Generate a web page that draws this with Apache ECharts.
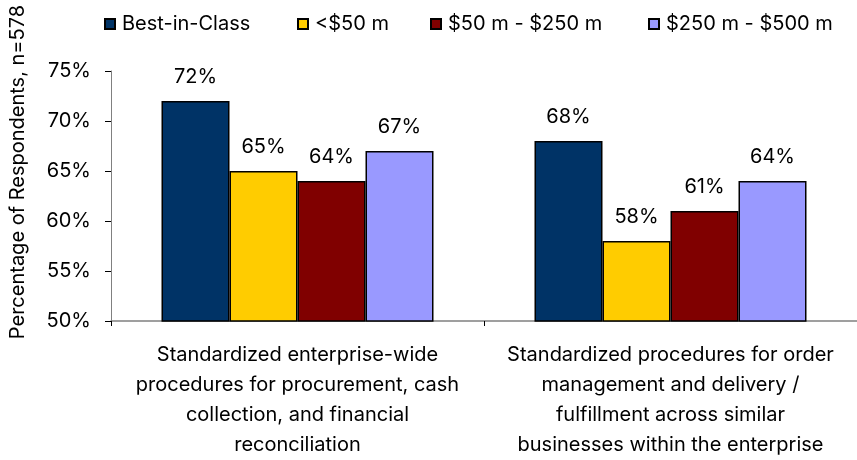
<!DOCTYPE html>
<html>
<head>
<meta charset="utf-8">
<title>Standardized procedures</title>
<script src="https://cdn.jsdelivr.net/npm/echarts@6/dist/echarts.min.js"></script>
<style>
	html, body { margin: 0; padding: 0; background: #fff; }
	#chart { width: 857px; height: 460px; }
</style>
</head>
<body>
<div id="chart"></div>
<script>
// 数据
var categories = [
	"Standardized enterprise-wide\nprocedures for procurement, cash\ncollection, and financial\nreconciliation",
	"Standardized procedures for order\nmanagement and delivery /\nfulfillment across similar\nbusinesses within the enterprise"
];
var seriesNames = ["Best-in-Class", "<$50 m", "$50 m - $250 m", "$250 m - $500 m"];
var bestInClass = [72, 68];
var under50 = [65, 58];
var from50to250 = [64, 61];
var from250to500 = [67, 64];
var yTicks = [50, 55, 60, 65, 70, 75];

var colors = ["#003366", "#FFCC00", "#800000", "#9999FF"];
var fontFamily = "Inter, 'Liberation Sans', Arial, sans-serif";
var fontSize = 20;

var myChart = echarts.init(document.getElementById('chart'));

// 每个系列的柱子
function makeSeries(name, data, color){
	return {
		name: name,
		type: 'bar',
		data: data,
		barWidth: 68,
		barGap: '0%',
		itemStyle: { color: color, borderColor: '#000', borderWidth: 1.5 },
		label: {
			show: true,
			position: 'top',
			distance: 14,
			formatter: '{c}%',
			color: '#000',
			fontFamily: fontFamily,
			fontSize: fontSize
		}
	};
}

// 图例各项单独定位
var legendLefts = [104, 297, 430, 648];
var legends = [];
for(var i=0;i<seriesNames.length;i++){
	legends.push({
		data: [seriesNames[i]],
		left: legendLefts[i],
		top: 14,
		icon: 'rect',
		itemWidth: 10,
		itemHeight: 10,
		itemGap: 12,
		padding: 0,
		textStyle: { color: '#000', fontFamily: fontFamily, fontSize: fontSize, padding: [0, 0, 0, 2] }
	});
}

var option = {
	backgroundColor: '#fff',
	animation: false,
	legend: legends,
	grid: { left: 111, right: -4, top: 71, bottom: 137 },
	xAxis: {
		type: 'category',
		data: categories,
		axisLine: { lineStyle: { color: '#808080', width: 1.5 } },
		axisTick: { show: true, length: 5, lineStyle: { color: '#000' } },
		axisLabel: {
			color: '#000',
			fontFamily: fontFamily,
			fontSize: fontSize,
			lineHeight: 30,
			margin: 19,
			interval: 0
		}
	},
	yAxis: {
		type: 'value',
		min: yTicks[0],
		max: yTicks[yTicks.length - 1],
		interval: yTicks[1] - yTicks[0],
		splitLine: { show: false },
		axisLine: { show: true, lineStyle: { color: '#808080', width: 1 } },
		axisTick: { show: true, length: 6, lineStyle: { color: '#000' } },
		axisLabel: {
			formatter: '{value}%',
			color: '#000',
			fontFamily: fontFamily,
			fontSize: fontSize,
			margin: 20
		}
	},
	graphic: [{
		type: 'text',
		x: 18,
		y: 172,
		rotation: Math.PI / 2,
		style: {
			text: 'Percentage of Respondents, n=578',
			fill: '#000',
			font: fontSize + 'px ' + fontFamily,
			align: 'center',
			verticalAlign: 'middle'
		}
	}],
	series: [
		makeSeries(seriesNames[0], bestInClass, colors[0]),
		makeSeries(seriesNames[1], under50, colors[1]),
		makeSeries(seriesNames[2], from50to250, colors[2]),
		makeSeries(seriesNames[3], from250to500, colors[3])
	]
};
myChart.setOption(option);
</script>
</body>
</html>
